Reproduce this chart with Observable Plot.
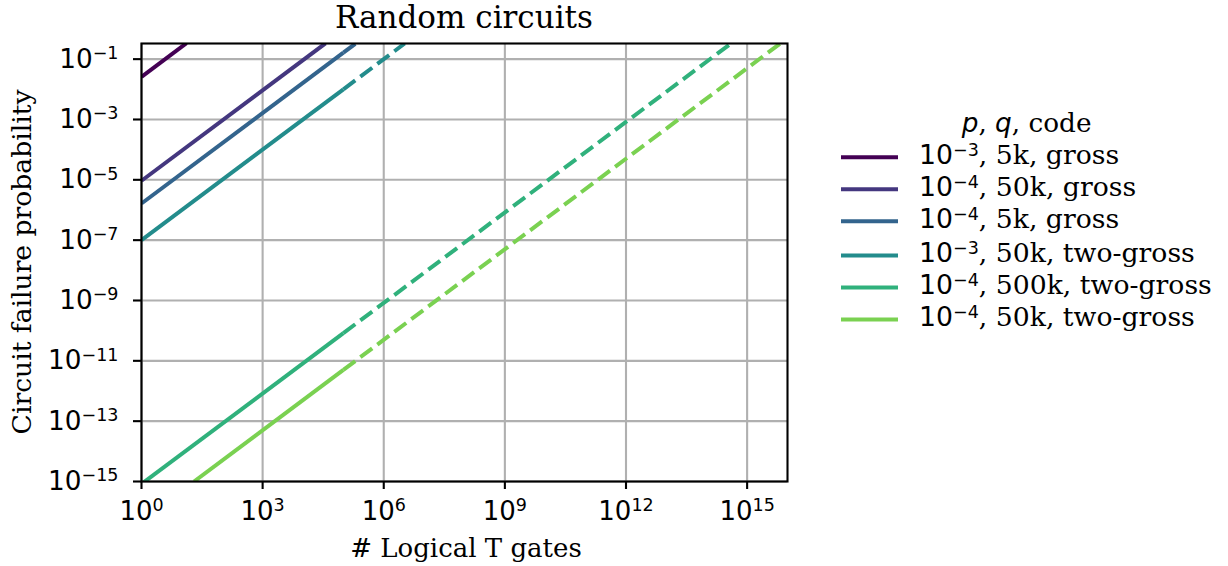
<!DOCTYPE html>
<html><head><meta charset="utf-8">
<script src="https://cdn.jsdelivr.net/npm/d3@7"></script>
<script src="https://cdn.jsdelivr.net/npm/@observablehq/plot@0.6"></script>
<style>
body{margin:0;background:#fff;}
#wrap{position:relative;width:1228px;height:566px;overflow:hidden;background:#fff;}
#wrap svg{position:absolute;left:0;top:0;}
</style></head><body><div id="wrap"></div>
<script>
// ---- data ----
const pExp   = ["-3", "-4", "-4", "-3", "-4", "-4"];
const qSize  = ["5k", "50k", "5k", "50k", "500k", "50k"];
const codes  = ["gross", "gross", "gross", "two-gross", "two-gross", "two-gross"];
// solid part (feasible range) : # logical T gates and failure probability
const solidN = [[1, 13], [1, 3.6e4], [1, 1e5], [1, 1e5], [1, 1e5], [20, 1e5]];
const solidP = [[0.026, 0.338], [9.3e-6, 0.335], [1.64e-6, 0.164], [1e-7, 0.01], [8.3e-16, 8.3e-11], [1e-15, 5e-12]];
// dashed extrapolation
const dashN  = [[], [], [1e5, 2e5], [1e5, 3.3e6], [1e5, 4e14], [1e5, 6.6e15]];
const dashP  = [[], [], [0.164, 0.328], [0.01, 0.33], [8.3e-11, 0.332], [5e-12, 0.33]];
const xTicks = [1, 1e3, 1e6, 1e9, 1e12, 1e15];
const yTicks = [1e-15, 1e-13, 1e-11, 1e-9, 1e-7, 1e-5, 1e-3, 1e-1];
const colors = ["#440154", "#44377f", "#33648d", "#238c8c", "#30b17c", "#7ad151"];
const titleText = "Random circuits";
const xLabel = "# Logical T gates";
const yLabel = "Circuit failure probability";

const keys = pExp.map((p, i) => `${p}|${qSize[i]}|${codes[i]}`);
const rows = [];
keys.forEach((k, i) => {
  solidN[i].forEach((n, j) => rows.push({key: k, part: "solid", N: n, P: solidP[i][j]}));
  dashN[i].forEach((n, j) => rows.push({key: k, part: "dashed", N: n, P: dashP[i][j]}));
});

const expFmt = d => "10^" + Math.round(Math.log10(d));
const LW = 4;
const plot = Plot.plot({
  width: 1228, height: 566,
  marginLeft: 141, marginRight: 441, marginTop: 43, marginBottom: 85,
  style: {fontFamily: "DejaVu Sans", fontSize: "26px", background: "transparent", color: "black"},
  x: {type: "log", domain: [1, 1e16], label: null},
  y: {type: "log", domain: [1e-15, 0.33], label: null},
  color: {domain: keys, range: colors},
  marks: [
    Plot.gridX(xTicks, {stroke: "#b0b0b0", strokeOpacity: 1, strokeWidth: 2.1}),
    Plot.gridY(yTicks, {stroke: "#b0b0b0", strokeOpacity: 1, strokeWidth: 2.1}),
    Plot.line(rows.filter(d => d.part === "solid"), {x: "N", y: "P", z: "key", stroke: "key", strokeWidth: LW, clip: true, strokeLinecap: "butt"}),
    Plot.line(rows.filter(d => d.part === "dashed"), {x: "N", y: "P", z: "key", stroke: "key", strokeWidth: LW, strokeDasharray: "14.8,6.4", clip: true, strokeLinecap: "butt"}),
    Plot.frame({stroke: "black", strokeWidth: 2.1}),
    Plot.axisX(xTicks, {tickSize: 8, tickPadding: 12, strokeWidth: 2.1, tickFormat: expFmt, label: null, fontSize: 26}),
    Plot.axisY(yTicks, {tickSize: 8, tickPadding: 15, strokeWidth: 2.1, tickFormat: expFmt, label: null, fontSize: 26.3})
  ]
});
document.getElementById("wrap").appendChild(plot);

// turn "10^k" tick labels into real superscripts
plot.querySelectorAll("text").forEach(t => {
  const m = /^10\^(-?\d+)$/.exec(t.textContent.trim());
  if (!m) return;
  t.textContent = "";
  const s = d3.select(t);
  s.append("tspan").text("10");
  s.append("tspan").attr("font-size", 17.5).attr("dy", -8.5).text(m[1].replace("-", "\u2212"));
});

// ---- annotations: title, axis labels, legend ----
const W = 1228, H = 566;
const ann = d3.select("#wrap").append("svg").attr("width", W).attr("height", H);
const serif = "DejaVu Serif", sans = "DejaVu Sans";
const cx = (141 + 787) / 2;
ann.append("text").attr("x", cx).attr("y", 28).attr("text-anchor", "middle")
  .attr("font-family", serif).attr("font-size", 31).text(titleText);
ann.append("text").attr("x", cx + 2).attr("y", 556.5).attr("text-anchor", "middle")
  .attr("font-family", serif).attr("font-size", 26).text(xLabel);
ann.append("text").attr("transform", `translate(31,262) rotate(-90)`).attr("text-anchor", "middle")
  .attr("font-family", serif).attr("font-size", 26.6).text(yLabel);

// legend
const lt = ann.append("text").attr("x", 1026.6).attr("y", 131.7).attr("text-anchor", "middle")
  .attr("font-size", 26.3).attr("font-family", serif);
lt.append("tspan").attr("font-family", sans).attr("font-style", "italic").text("p");
lt.append("tspan").text(", ");
lt.append("tspan").attr("font-family", sans).attr("font-style", "italic").text("q");
lt.append("tspan").text(", code");

const rowY = [157.3, 189.2, 221.3, 255.5, 287.6, 319.4];
keys.forEach((k, i) => {
  const y = rowY[i];
  ann.append("line").attr("x1", 841).attr("x2", 898).attr("y1", y).attr("y2", y)
    .attr("stroke", colors[i]).attr("stroke-width", LW);
  const t = ann.append("text").attr("x", 919).attr("y", y + 6.8).attr("font-size", 26.7).attr("font-family", serif);
  t.append("tspan").attr("font-family", sans).text("10");
  t.append("tspan").attr("font-family", sans).attr("font-size", 17.5).attr("dy", -8.5).text(pExp[i].replace("-", "\u2212"));
  t.append("tspan").attr("dy", 8.5).text(`, ${qSize[i]}, ${codes[i]}`);
});
</script></body></html>
